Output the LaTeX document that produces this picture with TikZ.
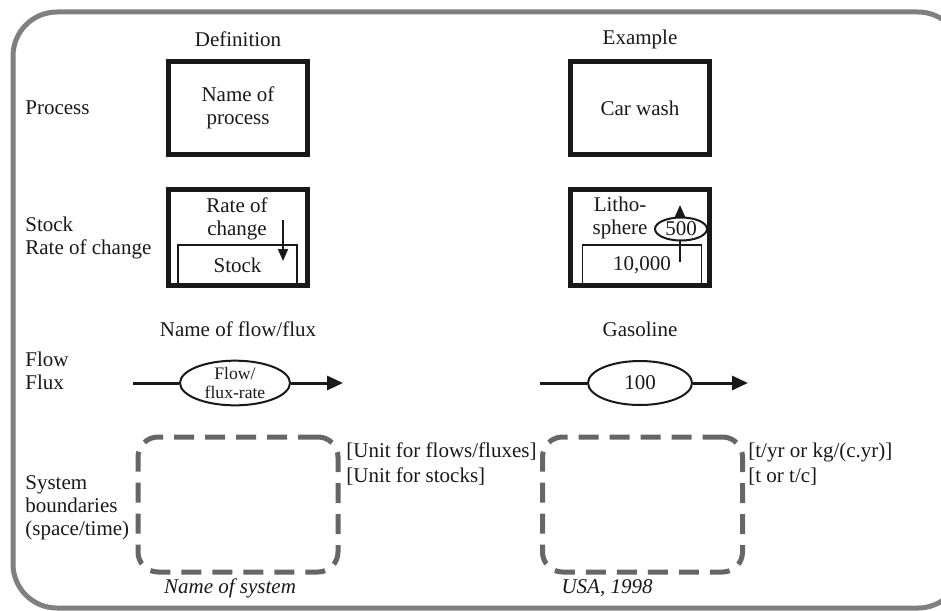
\documentclass[tikz,border=0pt]{standalone}
\usepackage{fontspec}
\setmainfont{Liberation Serif}
\usetikzlibrary{shapes.geometric, arrows.meta, positioning, calc}

\begin{document}
\begin{tikzpicture}[
        x=0.5pt, y=-0.5pt,
        >={Triangle[length=6pt, width=5pt]},
        every node/.style={font=\fontsize{10.5}{11.5}\selectfont, text=black!90},
        frame/.style={draw=black!50, line width=2.5pt, rounded corners=22pt},
        procbox/.style={rectangle, draw=black!90, line width=2.5pt, minimum width=69.5pt, minimum height=46.5pt, align=center},
        stockbox/.style={rectangle, draw=black!90, line width=2.5pt, minimum width=69.5pt, minimum height=48pt},
        stockin/.style={rectangle, draw=black!90, line width=0.8pt, minimum width=59.5pt, minimum height=20.5pt, inner sep=0pt},
        flux/.style={ellipse, draw=black!90, line width=1pt, fill=white, inner sep=0pt, align=center},
        sysbox/.style={rectangle, draw=black!60, line width=2.5pt, dash pattern=on 10pt off 5.5pt, rounded corners=10pt, minimum width=100pt, minimum height=67.5pt},
        colhead/.style={align=center},
        rowlabel/.style={anchor=west, align=left, inner sep=0pt},
        unitlabel/.style={anchor=west, inner sep=0pt},
        line/.style={draw, -{Triangle[length=8pt, width=7pt]}, line width=1.5pt, black!90},
        thinline/.style={draw, ->, line width=0.9pt, black!90}
    ]

        \useasboundingbox (0,0) rectangle (941,610);
        \begin{scope}
            \clip (0,0) rectangle (941,610);
            \draw[frame] (13,12) rectangle (962,608);
        \end{scope}

        % ================= CABECERAS =================
        \node[colhead] (hdef) at (238,39) {Definition};
        \node[colhead] (hex) at (640,39) {Example};

        \node[rowlabel] (lproc) at (25,108) {Process};
        \node[rowlabel] (lstock) at (25,237.5) {Stock\\Rate of change};
        \node[rowlabel] (lflow) at (25,370.5) {Flow\\Flux};
        \node[rowlabel] (lsys) at (25,507.5) {System\\boundaries\\(space/time)};

        % ================= PROCESO =================
        \node[procbox] (procL) at (238,108) {Name of\\process};
        \node[procbox] (procR) at (640,108) {Car wash};

        % ================= STOCK =================
        \node[stockbox] (stockL) at (238,237.5) {};
        \node[stockin] (stockinL) at (237.5,265.5) {Stock};
        \node[align=center] (rateL) at (237,219) {Rate of\\change};
        \coordinate (rateLtop) at (283,220);
        \coordinate (rateLend) at (283,261);
        \path[thinline] (rateLtop) -- (rateLend);

        \node[stockbox] (stockR) at (640,237.5) {};
        \node[stockin] (stockinR) at (642,265.5) {10,000};
        \node[align=center] (lithoR) at (620,218) {Litho-\\sphere};
        \coordinate (rateRbot) at (680,262);
        \coordinate (rateRend) at (680,205);
        \path[thinline] (rateRbot) -- (rateRend);
        \node[flux, minimum width=26pt, minimum height=11.5pt] (rateR) at (681,229) {500};

        % ================= FLUJO =================
        \node[colhead] (hflowL) at (238,329) {Name of flow/flux};
        \node[colhead] (hflowR) at (640,329) {Gasoline};

        \node[flux, minimum width=55pt, minimum height=22pt, font=\fontsize{8.8}{9.6}\selectfont] (flowL) at (235,383) {Flow/\\flux-rate};
        \coordinate (inL) at (133,383);
        \coordinate (outL) at (343,383);
        \draw[line width=1.5pt, black!90] (inL) -- (flowL.west);
        \path[line] (flowL.east) -- (outL);

        \node[flux, minimum width=52pt, minimum height=22pt] (flowR) at (640,383) {100};
        \coordinate (inR) at (540,383);
        \coordinate (outR) at (748,383);
        \draw[line width=1.5pt, black!90] (inR) -- (flowR.west);
        \path[line] (flowR.east) -- (outR);

        % ================= LIMITES DEL SISTEMA =================
        \node[sysbox] (sysL) at (238,504.5) {};
        \node[sysbox] (sysR) at (642.5,504.5) {};

        \node[unitlabel] (uflowL) at (346,452) {[Unit for flows/fluxes]};
        \node[unitlabel] (ustockL) at (346,477) {[Unit for stocks]};
        \node[unitlabel] (uflowR) at (748,452) {[t/yr or kg/(c.yr)]};
        \node[unitlabel] (ustockR) at (748,477) {[t or t/c]};

        \node[font=\fontsize{10.5}{11.5}\selectfont\itshape] (nameL) at (230,588) {Name of system};
        \node[font=\fontsize{10.5}{11.5}\selectfont\itshape] (nameR) at (607,588) {USA, 1998};

    \end{tikzpicture}
\end{document}
